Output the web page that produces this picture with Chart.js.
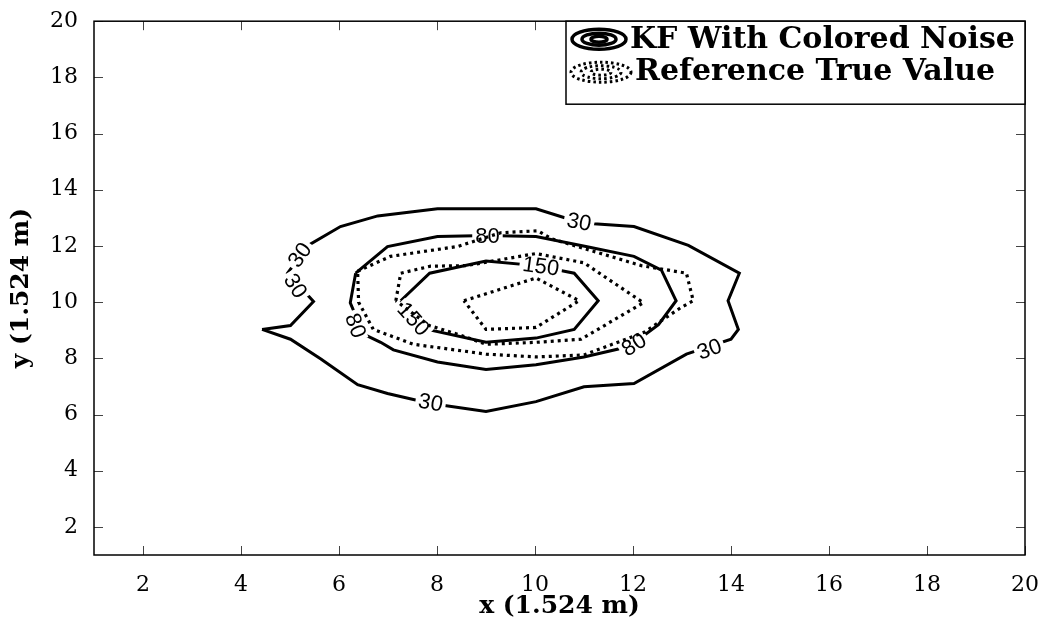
<!DOCTYPE html>
<html>
<head>
<meta charset="utf-8">
<title>KF contour</title>
<script src="https://cdn.jsdelivr.net/npm/chart.js@4.4.1/dist/chart.umd.min.js"></script>
<style>
  html, body { margin: 0; padding: 0; background: #fff; }
  #wrap { width: 1055px; height: 627px; position: relative; }
</style>
</head>
<body>
<div id="wrap"><canvas id="contour"></canvas></div>
<script>
const xTicks = [2, 4, 6, 8, 10, 12, 14, 16, 18, 20];
const yTicks = [2, 4, 6, 8, 10, 12, 14, 16, 18, 20];

// KF with colored noise, levels 30 / 80 / 150 (solid)
const kf30 = [
  [4.43, 9.03], [5.01, 9.17], [5.48, 10.02], [4.95, 11.03], [5.37, 12.02],
  [6.03, 12.69], [6.79, 13.07], [8.01, 13.32], [10.02, 13.32], [10.67, 12.97],
  [11.2, 12.79], [12.02, 12.69], [13.13, 12.02], [14.17, 11.03], [13.94, 10.05],
  [14.15, 9.03], [14.0, 8.68], [13.09, 8.15], [12.02, 7.1], [11.0, 6.99],
  [10.02, 6.46], [9.0, 6.11], [7.87, 6.39], [6.99, 6.75], [6.38, 7.06],
  [5.63, 7.98], [5.01, 8.68], [4.43, 9.03],
];
const kf80 = [
  [6.34, 11.03], [6.99, 11.98], [8.01, 12.34], [9.03, 12.37], [10.02, 12.34],
  [11.04, 11.98], [12.02, 11.63], [12.58, 11.14], [12.88, 10.05], [12.52, 9.2],
  [12.23, 8.82], [11.7, 8.33], [11.0, 8.05], [10.02, 7.77], [9.0, 7.6],
  [8.01, 7.87], [7.11, 8.3], [6.85, 8.57], [6.5, 8.86], [6.23, 9.98], [6.34, 11.03],
];
const kf150 = [
  [7.26, 10.05], [7.85, 11.03], [9.0, 11.46], [10.02, 11.3], [10.8, 11.03],
  [11.29, 10.05], [10.8, 9.03], [10.02, 8.72], [9.0, 8.57], [7.81, 9.03], [7.26, 10.05],
];

// reference true value (dotted)
const refOuter = [
  [6.38, 11.1], [7.05, 11.63], [8.42, 11.98], [9.3, 12.47], [10.06, 12.54],
  [10.33, 12.26], [12.17, 11.3], [13.09, 11.03], [13.23, 10.05], [12.98, 9.81],
  [12.23, 8.93], [11.0, 8.12], [10.02, 8.05], [9.0, 8.15], [7.52, 8.5],
  [6.7, 9.03], [6.4, 10.0], [6.38, 11.1],
];
const refMiddle = [
  [7.16, 10.05], [7.26, 11.03], [7.87, 11.28], [8.6, 11.3], [10.02, 11.73],
  [11.0, 11.4], [12.21, 9.98], [10.94, 8.68], [10.02, 8.57], [9.0, 8.5],
  [8.49, 8.82], [7.84, 9.17], [7.16, 10.05],
];
const refInner = [
  [8.55, 10.05], [10.02, 10.86], [10.9, 10.05], [10.02, 9.1], [9.0, 9.03], [8.55, 10.05],
];

// inline level labels on the solid contours (angle in degrees)
const contourLabels = [
  { text: "30", x: 10.9, y: 12.86, angle: 11 },
  { text: "30", x: 5.2, y: 11.68, angle: -55 },
  { text: "30", x: 5.11, y: 10.58, angle: 58 },
  { text: "30", x: 7.87, y: 6.43, angle: 10 },
  { text: "30", x: 13.56, y: 8.33, angle: -20 },
  { text: "80", x: 9.03, y: 12.37, angle: 0 },
  { text: "80", x: 6.34, y: 9.17, angle: 70 },
  { text: "80", x: 12.02, y: 8.49, angle: -32 },
  { text: "150", x: 10.12, y: 11.28, angle: 8 },
  { text: "150", x: 7.52, y: 9.4, angle: 48 },
];

const toPoints = (arr) => arr.map((p) => ({ x: p[0], y: p[1] }));

function contourSet(arr, dotted) {
  return {
    data: toPoints(arr),
    showLine: true,
    borderColor: "#000",
    borderWidth: dotted ? 3.2 : 3,
    borderDash: dotted ? [3, 4] : [],
    pointRadius: 0,
    tension: 0,
    fill: false,
  };
}

// dotted sets first so they end up drawn on top of the solid ones
const datasets = [
  contourSet(refOuter, true),
  contourSet(refMiddle, true),
  contourSet(refInner, true),
  contourSet(kf30, false),
  contourSet(kf80, false),
  contourSet(kf150, false),
];
const lastSolidDrawn = 3;

const labelPlugin = {
  id: "contourLabels",
  afterDatasetDraw(chart, args) {
    if (args.index !== lastSolidDrawn) return;
    const { ctx } = chart;
    const xs = chart.scales.x;
    const ys = chart.scales.y;
    ctx.save();
    ctx.font = "22px 'Liberation Sans', Arial, sans-serif";
    ctx.textAlign = "center";
    ctx.textBaseline = "middle";
    contourLabels.forEach((lab) => {
      const px = xs.getPixelForValue(lab.x);
      const py = ys.getPixelForValue(lab.y);
      const w = ctx.measureText(lab.text).width;
      ctx.save();
      ctx.translate(px, py);
      ctx.rotate((lab.angle * Math.PI) / 180);
      ctx.fillStyle = "#fff";
      ctx.fillRect(-w / 2 - 3, -8, w + 6, 16);
      ctx.fillStyle = "#000";
      ctx.fillText(lab.text, 0, 1);
      ctx.restore();
    });
    ctx.restore();
  },
};

// box round the plot with inward ticks on all four sides
const framePlugin = {
  id: "frame",
  afterDraw(chart) {
    const { ctx, chartArea: a } = chart;
    const xs = chart.scales.x;
    const ys = chart.scales.y;
    const len = 9;
    ctx.save();
    ctx.strokeStyle = "#444";
    ctx.lineWidth = 1;
    ctx.beginPath();
    xTicks.forEach((v) => {
      const px = Math.round(xs.getPixelForValue(v)) + 0.5;
      ctx.moveTo(px, a.bottom);
      ctx.lineTo(px, a.bottom - len);
      ctx.moveTo(px, a.top);
      ctx.lineTo(px, a.top + len);
    });
    yTicks.forEach((v) => {
      const py = Math.round(ys.getPixelForValue(v)) + 0.5;
      ctx.moveTo(a.left, py);
      ctx.lineTo(a.left + len, py);
      ctx.moveTo(a.right, py);
      ctx.lineTo(a.right - len, py);
    });
    ctx.stroke();
    ctx.strokeStyle = "#000";
    ctx.lineWidth = 1.5;
    ctx.strokeRect(a.left, a.top, a.right - a.left, a.bottom - a.top);
    ctx.restore();
  },
};

function drawEllipses(ctx, cx, cy, radii, dash) {
  ctx.setLineDash(dash);
  radii.forEach((r) => {
    ctx.beginPath();
    ctx.ellipse(cx, cy, r[0], r[1], 0, 0, Math.PI * 2);
    ctx.stroke();
  });
  ctx.setLineDash([]);
}

const legendPlugin = {
  id: "contourLegend",
  afterDraw(chart) {
    const { ctx, chartArea: a } = chart;
    const w = 459;
    const h = 83;
    const x0 = a.right - w;
    const y0 = a.top;
    ctx.save();
    ctx.fillStyle = "#fff";
    ctx.fillRect(x0, y0, w, h);
    ctx.strokeStyle = "#000";
    ctx.lineWidth = 1.5;
    ctx.strokeRect(x0, y0, w, h);

    ctx.lineWidth = 3.5;
    drawEllipses(ctx, x0 + 33, y0 + 18, [[27, 10], [17, 6], [8, 3]], []);
    ctx.lineWidth = 3;
    drawEllipses(ctx, x0 + 35, y0 + 51, [[30, 10], [20, 6.5], [10, 3]], [2.5, 3]);

    ctx.fillStyle = "#000";
    ctx.font = "bold 30px 'DejaVu Serif', Georgia, serif";
    ctx.textBaseline = "middle";
    ctx.textAlign = "left";
    ctx.fillText("KF With Colored Noise", x0 + 64, y0 + 19, 386);
    ctx.fillText("Reference True Value", x0 + 69, y0 + 51, 381);
    ctx.restore();
  },
};

const serif = "'DejaVu Serif', Georgia, serif";

new Chart(document.getElementById("contour"), {
  type: "scatter",
  data: { datasets },
  options: {
    responsive: true,
    maintainAspectRatio: false,
    animation: false,
    layout: { padding: { top: 15, right: 30, left: 0, bottom: 0 } },
    plugins: {
      legend: { display: false },
      tooltip: { enabled: false },
    },
    scales: {
      x: {
        type: "linear",
        min: 1,
        max: 20,
        grid: { display: false },
        border: { display: false },
        afterBuildTicks: (scale) => {
          scale.ticks = xTicks.map((v) => ({ value: v }));
        },
        afterFit: (scale) => {
          scale.height = 72;
        },
        ticks: {
          color: "#000",
          padding: 9,
          maxRotation: 0,
          font: { family: serif, size: 22 },
        },
        title: {
          display: true,
          text: "x (1.524 m)",
          color: "#000",
          padding: 6,
          font: { family: serif, size: 25, weight: "bold" },
        },
      },
      y: {
        type: "linear",
        min: 1,
        max: 20,
        grid: { display: false },
        border: { display: false },
        afterBuildTicks: (scale) => {
          scale.ticks = yTicks.map((v) => ({ value: v }));
        },
        afterFit: (scale) => {
          scale.width = 94;
        },
        ticks: {
          color: "#000",
          padding: 8,
          font: { family: serif, size: 22 },
        },
        title: {
          display: true,
          text: "y (1.524 m)",
          color: "#000",
          padding: 6,
          font: { family: serif, size: 25, weight: "bold" },
        },
      },
    },
  },
  plugins: [labelPlugin, framePlugin, legendPlugin],
});
</script>
</body>
</html>
